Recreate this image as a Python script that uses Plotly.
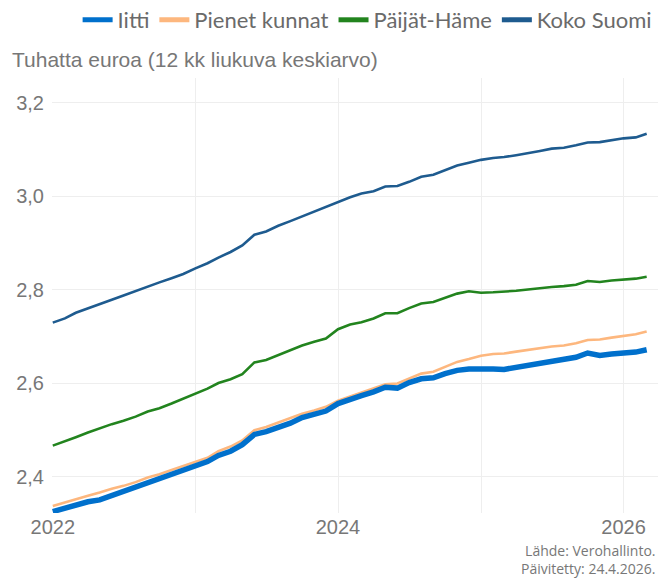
import pandas as pd
import plotly.graph_objects as go

months = pd.date_range("2022-01-01", "2026-03-01", freq="MS")

iitti = [2.326, 2.333, 2.341, 2.347, 2.351, 2.360, 2.368, 2.378, 2.389, 2.396, 2.406, 2.415,
         2.424, 2.433, 2.446, 2.455, 2.469, 2.491, 2.497, 2.505, 2.515, 2.527, 2.533, 2.541,
         2.557, 2.567, 2.574, 2.582, 2.592, 2.590, 2.602, 2.610, 2.612, 2.621, 2.628, 2.631,
         2.632, 2.631, 2.630, 2.634, 2.639, 2.644, 2.647, 2.652, 2.656, 2.665, 2.660, 2.663,
         2.665, 2.667, 2.672]
pienet = [2.338, 2.346, 2.353, 2.360, 2.367, 2.375, 2.381, 2.389, 2.399, 2.406, 2.415, 2.424,
          2.433, 2.441, 2.455, 2.465, 2.478, 2.500, 2.507, 2.517, 2.526, 2.535, 2.542, 2.550,
          2.563, 2.572, 2.579, 2.588, 2.598, 2.600, 2.610, 2.621, 2.625, 2.636, 2.646, 2.652,
          2.659, 2.663, 2.664, 2.668, 2.672, 2.675, 2.679, 2.681, 2.686, 2.693, 2.694, 2.698,
          2.702, 2.705, 2.711]
paijat = [2.467, 2.476, 2.485, 2.495, 2.504, 2.513, 2.520, 2.529, 2.540, 2.547, 2.557, 2.567,
          2.578, 2.589, 2.601, 2.609, 2.620, 2.645, 2.650, 2.660, 2.670, 2.681, 2.689, 2.696,
          2.716, 2.726, 2.731, 2.739, 2.750, 2.750, 2.761, 2.771, 2.774, 2.783, 2.792, 2.797,
          2.794, 2.795, 2.796, 2.798, 2.801, 2.804, 2.806, 2.808, 2.811, 2.819, 2.817, 2.820,
          2.822, 2.824, 2.828]
koko = [2.730, 2.739, 2.751, 2.761, 2.770, 2.779, 2.788, 2.798, 2.808, 2.816, 2.825, 2.834,
        2.846, 2.857, 2.869, 2.881, 2.895, 2.918, 2.925, 2.937, 2.947, 2.957, 2.968, 2.977,
        2.989, 2.998, 3.006, 3.011, 3.021, 3.022, 3.031, 3.042, 3.046, 3.055, 3.066, 3.072,
        3.078, 3.082, 3.084, 3.088, 3.092, 3.097, 3.102, 3.104, 3.109, 3.115, 3.116, 3.120,
        3.124, 3.126, 3.134]

series_names = ["Iitti", "Pienet kunnat", "Päijät-Häme", "Koko Suomi"]
series_values = [iitti, pienet, paijat, koko]
series_colors = ["#0070CC", "#FDB77E", "#22841E", "#1E5B8F"]
series_widths = [5.5, 2.6, 2.6, 2.6]

x_tickvals = ["2022-01-01", "2023-01-01", "2024-01-01", "2025-01-01", "2026-01-01"]
x_ticktext = ["2022", "", "2024", "", "2026"]
y_tickvals = [2.4, 2.6, 2.8, 3.0, 3.2]

fig = go.Figure()
# data lines (Iitti drawn last so it sits on top)
for name, vals, col, w in list(zip(series_names, series_values, series_colors, series_widths))[::-1]:
    fig.add_trace(go.Scatter(x=months, y=vals, mode="lines", name=name,
                             line=dict(color=col, width=w), showlegend=False))
# legend entries with equal-thickness swatches
for i, (name, col) in enumerate(zip(series_names, series_colors)):
    fig.add_trace(go.Scatter(x=[None], y=[None], mode="lines", name=name,
                             line=dict(color=col, width=5), showlegend=True, legendrank=i + 1))

fig.update_layout(
    width=672, height=579,
    margin=dict(l=52, r=14, t=78, b=66, autoexpand=False),
    paper_bgcolor="white", plot_bgcolor="white",
    separators=", ",
    font=dict(family="Liberation Sans, Arial, sans-serif", color="#777777", size=18),
    showlegend=True,
    legend=dict(orientation="h", x=0.52, xanchor="center", y=1 - 20 / 579, yanchor="middle",
                yref="container", font=dict(family="Lato, sans-serif", size=22, color="#6a6a6a"),
                itemwidth=30, traceorder="normal", bgcolor="rgba(0,0,0,0)"),
    title=dict(text="Tuhatta euroa (12 kk liukuva keskiarvo)", x=12 / 672, xanchor="left",
               xref="container", y=1 - 60 / 579, yanchor="middle", yref="container",
               font=dict(family="Liberation Sans, Arial, sans-serif", size=21, color="#777777")),
)
fig.update_xaxes(range=["2021-12-30", "2026-03-30"], tickvals=x_tickvals, ticktext=x_ticktext,
                 showgrid=True, gridcolor="#EEEEEE", gridwidth=1, zeroline=False, automargin=False,
                 showline=False, ticks="", tickfont=dict(size=20, color="#777777"))
fig.update_yaxes(range=[2.323, 3.253], tickvals=y_tickvals, tickformat=".1f", automargin=False,
                 showgrid=True, gridcolor="#EEEEEE", gridwidth=1, zeroline=False,
                 ticklabelstandoff=7,
                 showline=False, ticks="", tickfont=dict(size=20, color="#777777"))
fig.add_annotation(text="Lähde: Verohallinto.<br>Päivitetty: 24.4.2026.", xref="paper", yref="paper",
                   x=1, y=-46 / 435, xanchor="right", yanchor="middle", align="right",
                   showarrow=False,
                   font=dict(family="Open Sans, sans-serif", size=14, color="#777777"))

fig.write_html("out.html", config={"displayModeBar": False},
               post_script="document.body.style.margin='0';document.body.style.overflow='hidden';")
